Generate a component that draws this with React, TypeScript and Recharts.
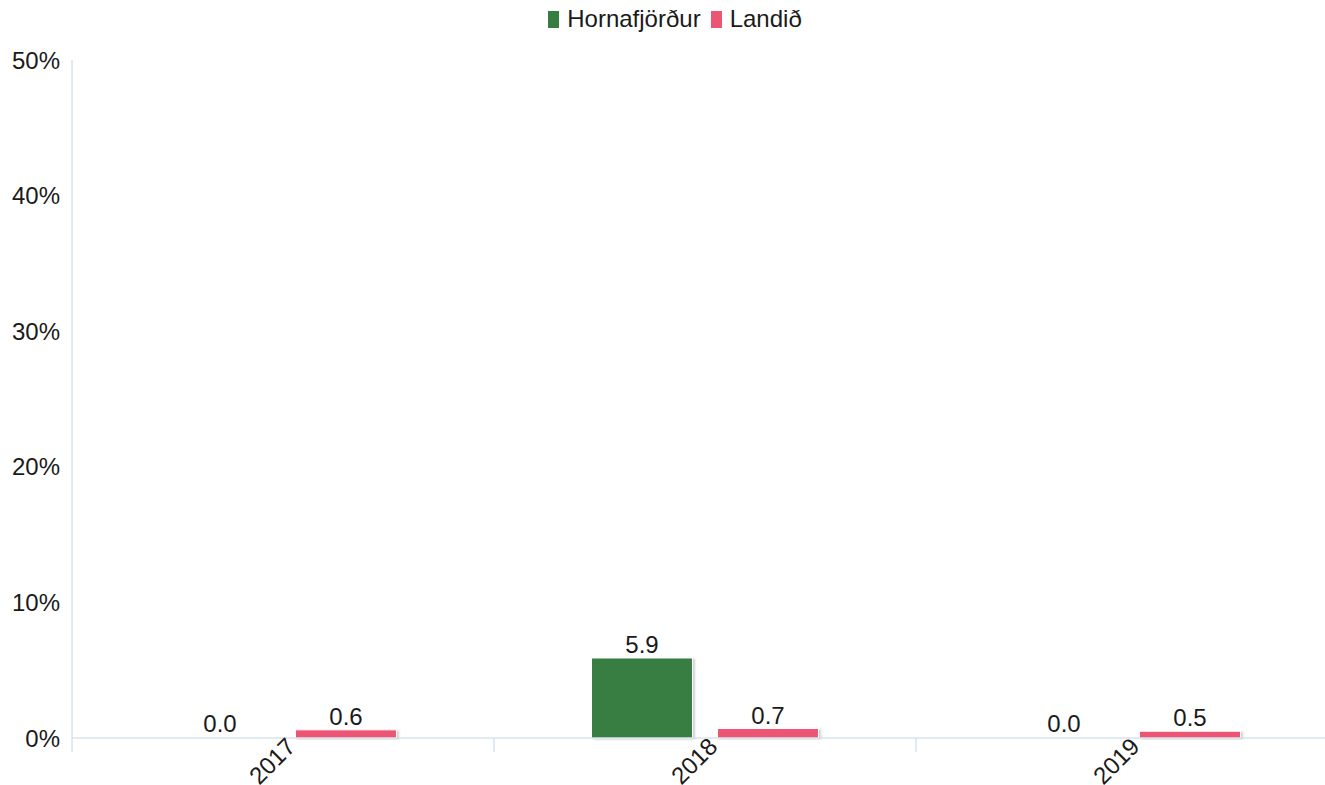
import { BarChart, Bar, XAxis, YAxis, Legend, LabelList, Rectangle } from "recharts";

const years = ["2017", "2018", "2019"];
const hornafjordur = [0.0, 5.9, 0.0];
const landid = [0.6, 0.7, 0.5];
const yTicks = [0, 10, 20, 30, 40, 50];

const data = years.map((year, i) => ({
  year,
  hornafjordur: hornafjordur[i],
  landid: landid[i],
}));

const GREEN = "#377d42";
const PINK = "#ec5573";
const AXIS = "#c4d4e6";
const FONT = "'Liberation Sans', Arial, sans-serif";
const TXT = "#1a1a1a";

const CHART_W = 1340;
const Y_W = 72;
const BAND = (CHART_W - Y_W - 2) / years.length;

function YearTick(props: any) {
  const { x, y, payload } = props;
  const ax = x + 14;
  const ay = y + 2;
  return (
    <g>
      <line x1={x - BAND / 2} y1={738} x2={x - BAND / 2} y2={752} stroke={AXIS} />
      <text
        x={ax}
        y={ay}
        transform={`rotate(-45, ${ax}, ${ay})`}
        textAnchor="end"
        fontSize={24}
        fill={TXT}
        fontFamily={FONT}
      >
        {payload.value}
      </text>
    </g>
  );
}

function ValueLabel(props: any) {
  const { x, y, width, value } = props;
  return (
    <text
      x={x + width / 2}
      y={y - 5}
      textAnchor="middle"
      fontSize={24}
      fill={TXT}
      fontFamily={FONT}
    >
      {Number(value).toFixed(1)}
    </text>
  );
}

// zero values get a 1px placeholder so the label is kept, but no visible bar
function BarShape(props: any) {
  if (!props.value || Number(props.value) === 0) return <g />;
  return <Rectangle {...props} />;
}

function LegendContent() {
  const items = [
    { name: "Hornafjörður", color: GREEN },
    { name: "Landið", color: PINK },
  ];
  return (
    <div style={{ display: "flex", justifyContent: "center", fontFamily: FONT, fontSize: 24, color: TXT, marginLeft: 22, lineHeight: "28px" }}>
      {items.map((it) => (
        <div key={it.name} style={{ display: "flex", alignItems: "center", marginRight: 10 }}>
          <span style={{ display: "inline-block", width: 11, height: 17, background: it.color, marginRight: 8 }} />
          <span>{it.name}</span>
        </div>
      ))}
    </div>
  );
}

export default function App() {
  return (
    <div style={{ position: "absolute", left: 0, top: 0, width: 1325, height: 785, overflow: "hidden", background: "#fff" }}>
      <BarChart
        width={CHART_W}
        height={785}
        data={data}
        margin={{ top: 5, right: 2, left: 0, bottom: 0 }}
        barCategoryGap="23.1%"
        barGap={25}
      >
        <defs>
          <filter id="barShadow" x="-10%" y="-10%" width="130%" height="130%">
            <feDropShadow dx="2" dy="1" stdDeviation="1.2" floodColor="#000" floodOpacity="0.18" />
          </filter>
        </defs>
        <Legend verticalAlign="top" height={55} content={<LegendContent />} />
        <XAxis
          dataKey="year"
          height={47}
          axisLine={{ stroke: AXIS }}
          tickLine={false}
          interval={0}
          tick={<YearTick />}
        />
        <YAxis
          width={Y_W}
          domain={[0, 50]}
          ticks={yTicks}
          tickFormatter={(v) => `${v}%`}
          axisLine={{ stroke: AXIS }}
          tickLine={false}
          tickSize={0}
          tickMargin={12}
          tick={{ fontSize: 24, fill: TXT, fontFamily: FONT }}
        />
        <Bar
          dataKey="hornafjordur"
          fill={GREEN}
          stroke="#fff"
          strokeWidth={1}
          filter="url(#barShadow)"
          minPointSize={1}
          shape={<BarShape />}
          isAnimationActive={false}
        >
          <LabelList dataKey="hornafjordur" content={<ValueLabel />} />
        </Bar>
        <Bar
          dataKey="landid"
          fill={PINK}
          stroke="#fff"
          strokeWidth={1}
          filter="url(#barShadow)"
          minPointSize={1}
          shape={<BarShape />}
          isAnimationActive={false}
        >
          <LabelList dataKey="landid" content={<ValueLabel />} />
        </Bar>
      </BarChart>
    </div>
  );
}
